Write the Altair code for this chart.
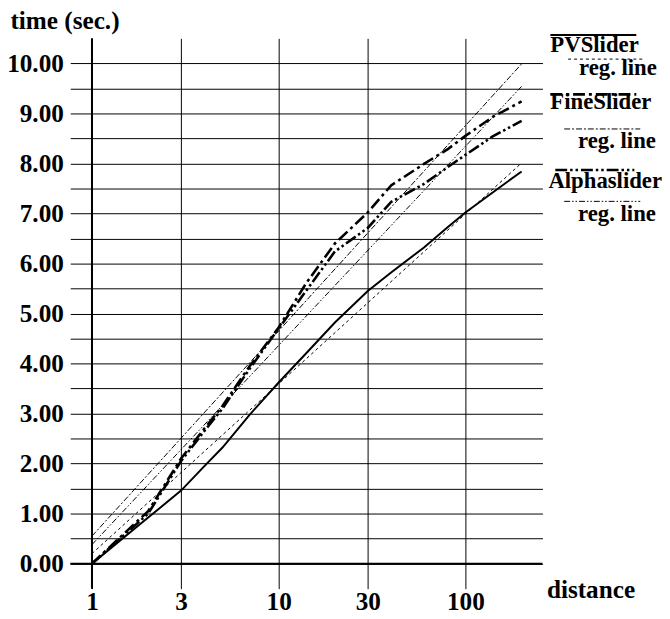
import altair as alt
import pandas as pd

# ---- data ----
distance = [1, 2, 3, 4, 5, 7, 10, 14, 20, 30, 40, 60, 80, 100, 140, 200]
pvslider = [0, 0.92, 1.46, 1.95, 2.32, 2.98, 3.62, 4.2, 4.82, 5.45, 5.82, 6.32, 6.72, 7.02, 7.42, 7.84]
fineslider = [0, 1.05, 2.1, 2.7, 3.15, 3.95, 4.72, 5.6, 6.4, 7.02, 7.56, 7.99, 8.28, 8.55, 8.93, 9.24]
alphaslider = [0, 1.0, 2.05, 2.65, 3.1, 3.9, 4.7, 5.45, 6.24, 6.71, 7.23, 7.59, 7.92, 8.17, 8.54, 8.85]

reg_x = [1, 200]
pv_reg = [0.2, 8.01]
fine_reg = [0.55, 9.99]
alpha_reg = [0.38, 9.54]

legend_labels = ["PVSlider", "reg. line", "FineSlider", "reg. line", "Alphaslider", "reg. line"]
x_ticks = [1, 3, 10, 30, 100]
y_ticks = [0, 0.5, 1, 1.5, 2, 2.5, 3, 3.5, 4, 4.5, 5, 5.5, 6, 6.5, 7, 7.5, 8, 8.5, 9, 9.5, 10]

FONT = "'Liberation Serif', 'Times New Roman', Times, 'DejaVu Serif', serif"
AX_FS = 25.5
LG_FS = 23

xscale = alt.Scale(type="log", domain=[0.765, 258.6], nice=False)
yscale = alt.Scale(domain=[-0.5, 10.5], nice=False, zero=False)

xaxis = alt.Axis(values=x_ticks, format="d", grid=True, gridColor="black", gridWidth=1,
                 domain=False, ticks=False, labelFont=FONT, labelFontSize=AX_FS,
                 labelFontWeight="bold", labelColor="black", labelPadding=1,
                 labelFlush=False, labelOverlap=False,
                 title="distance", titleFont=FONT, titleFontSize=AX_FS, titleFontWeight="bold",
                 titleColor="black", titleX=482, titleY=9, titleAlign="left",
                 titleBaseline="alphabetic", titleAngle=0)
yaxis = alt.Axis(values=y_ticks,
                 labelExpr="datum.value % 1 == 0 ? format(datum.value, '.2f') : ''",
                 grid=True, gridColor="black", gridWidth=1, domain=False, ticks=False,
                 labelFont=FONT, labelFontSize=AX_FS, labelFontWeight="bold",
                 labelColor="black", labelPadding=7, labelOverlap=False, labelFlush=False,
                 title="time (sec.)", titleFont=FONT, titleFontSize=AX_FS,
                 titleFontWeight="bold", titleColor="black", titleAngle=0,
                 titleX=-61, titleY=-10, titleAlign="left", titleBaseline="alphabetic")


def series(xs, ys, dash, width):
    df = pd.DataFrame({"distance": xs, "time": ys})
    mark_kw = dict(color="black", strokeWidth=width, clip=False)
    if dash:
        mark_kw["strokeDash"] = dash
    return alt.Chart(df).mark_line(**mark_kw).encode(
        x=alt.X("distance:Q", scale=xscale, axis=xaxis),
        y=alt.Y("time:Q", scale=yscale, axis=yaxis),
    )


# thicker axis lines at distance 1 and time 0
zero_line = alt.Chart(pd.DataFrame({"time": [0]})).mark_rule(color="black", strokeWidth=2).encode(
    y=alt.Y("time:Q", scale=yscale, axis=yaxis))
one_line = alt.Chart(pd.DataFrame({"distance": [1]})).mark_rule(color="black", strokeWidth=2).encode(
    x=alt.X("distance:Q", scale=xscale, axis=xaxis))

DASH_PV_REG = [3, 3]
DASH_FINE = [12, 4, 3, 4]
DASH_FINE_REG = [6, 2, 2, 2]
DASH_ALPHA = [12, 3, 2.5, 3, 2.5, 3]
DASH_ALPHA_REG = [6, 2, 1.5, 2, 1.5, 2]

layers = [
    zero_line, one_line,
    series(reg_x, pv_reg, DASH_PV_REG, 1),
    series(reg_x, fine_reg, DASH_FINE_REG, 1),
    series(reg_x, alpha_reg, DASH_ALPHA_REG, 1),
    series(distance, pvslider, None, 2),
    series(distance, fineslider, DASH_FINE, 2.6),
    series(distance, alphaslider, DASH_ALPHA, 2.6),
]

# ---- legend (layout positions in pixels, relative to the plot area) ----
legend_layout = [
    # sample x1, x2, y, dash, width, text x, text baseline y
    (486, 573, -3.3, None, 2, 486, 14),
    (504, 581, 21, DASH_PV_REG, 1, 515, 37.5),
    (486, 573, 56.7, DASH_FINE, 2.6, 486, 72),
    (500, 577, 91.7, DASH_FINE_REG, 1, 514, 111),
    (491, 571, 133.3, DASH_ALPHA, 2.6, 484, 151.5),
    (500, 577, 165, DASH_ALPHA_REG, 1, 514, 184.5),
]
for label, (x1, x2, ly, dash, w, tx, ty) in zip(legend_labels, legend_layout):
    one = pd.DataFrame({"label": [label]})
    rule_kw = dict(color="black", strokeWidth=w)
    if dash:
        rule_kw["strokeDash"] = dash
    layers.append(alt.Chart(one).mark_rule(**rule_kw).encode(
        x=alt.value(x1), x2=alt.value(x2), y=alt.value(ly)))
    layers.append(alt.Chart(one).mark_text(
        align="left", baseline="alphabetic", font=FONT, fontSize=LG_FS,
        fontWeight="bold", color="black").encode(
        x=alt.value(tx), y=alt.value(ty), text="label:N"))

chart = alt.layer(*layers).properties(
    width=478, height=557,
    autosize=alt.AutoSizeParams(type="none"),
    padding={"left": 63, "top": 27, "right": 121, "bottom": 27},
    background="white",
).configure_view(strokeWidth=0)

chart.save("out.html", embed_options={"renderer": "svg", "actions": False})
